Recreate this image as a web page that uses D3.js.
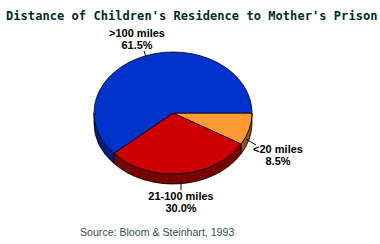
<!DOCTYPE html>
<html>
<head>
<meta charset="utf-8">
<script src="https://cdn.jsdelivr.net/npm/d3@7"></script>
<style>
  body { margin: 0; background: #fff; }
  svg { display: block; }
</style>
</head>
<body>
<script>
var categories = ["<20 miles", "21-100 miles", ">100 miles"];
var values = [8.5, 30.0, 61.5];
var pct_labels = ["8.5%", "30.0%", "61.5%"];

var top_color = ["#ff9933", "#cc0000", "#0033cc"];
var side_color = ["#8f5414", "#7a0000", "#001f86"];

var W = 380, H = 244;
var cx = 173, cy = 113, rx = 79, ry = 61, depth = 10;

// where each label sits relative to the slice (layout only)
var label_pos = [
    {x: 278, y: 153, lx0: 246, ly0: 139, lx1: 256, ly1: 145},
    {x: 181, y: 200, lx0: 181, ly0: 183, lx1: 181, ly1: 190},
    {x: 137, y: 37,  lx0: 146, ly0: 57,  lx1: 144, ly1: 51}
];

var svg = d3.select('body').append('svg')
    .attr('width', W)
    .attr('height', H);

svg.append('text')
    .attr('x', 6)
    .attr('y', 20)
    .attr('font-family', 'DejaVu Sans Mono')
    .attr('font-weight', 'bold')
    .attr('font-size', '12px')
    .attr('letter-spacing', '0.06px')
    .attr('fill', '#002b2b')
    .text("Distance of Children's Residence to Mother's Prison");

// start at 3 o'clock, go clockwise
var pie = d3.pie().sort(null).startAngle(Math.PI / 2).endAngle(Math.PI / 2 + 2 * Math.PI);
var arcs = pie(values);

function pt(a, dy){
    return [cx + rx * Math.sin(a), cy - ry * Math.cos(a) + (dy || 0)];
}

// side walls (front half only: PI/2 .. 3PI/2)
var sides = svg.append('g').attr('class', 'sides');
arcs.forEach(function(d, i){
    var a0 = Math.max(d.startAngle, Math.PI / 2);
    var a1 = Math.min(d.endAngle, 3 * Math.PI / 2);
    if (a1 <= a0) return;
    var p0 = pt(a0), p1 = pt(a1), q0 = pt(a0, depth), q1 = pt(a1, depth);
    var path = "M" + p0 + " A" + rx + " " + ry + " 0 0 1 " + p1 +
        " L" + q1 + " A" + rx + " " + ry + " 0 0 0 " + q0 + " Z";
    sides.append('path')
        .attr('d', path)
        .attr('fill', side_color[i])
        .attr('stroke', '#000')
        .attr('stroke-width', 0.8)
        .attr('stroke-linejoin', 'round');
});

// top faces
var tops = svg.append('g').attr('class', 'tops');
arcs.forEach(function(d, i){
    var p0 = pt(d.startAngle), p1 = pt(d.endAngle);
    var large = (d.endAngle - d.startAngle) > Math.PI ? 1 : 0;
    var path = "M" + cx + "," + cy + " L" + p0 + " A" + rx + " " + ry + " 0 " + large + " 1 " + p1 + " Z";
    tops.append('path')
        .attr('d', path)
        .attr('fill', top_color[i])
        .attr('stroke', '#000')
        .attr('stroke-width', 0.8)
        .attr('stroke-linejoin', 'round');
});

// labels and leader lines
var labels = svg.append('g').attr('class', 'labels');
categories.forEach(function(c, i){
    var p = label_pos[i];
    labels.append('line')
        .attr('x1', p.lx0).attr('y1', p.ly0)
        .attr('x2', p.lx1).attr('y2', p.ly1)
        .attr('stroke', '#000')
        .attr('stroke-width', 1);
    var t = labels.append('text')
        .attr('x', p.x)
        .attr('y', p.y)
        .attr('text-anchor', 'middle')
        .attr('font-family', 'Liberation Sans, Arial, sans-serif')
        .attr('font-weight', 'bold')
        .attr('font-size', '11px')
        .attr('fill', '#000');
    t.append('tspan').attr('x', p.x).text(c);
    t.append('tspan').attr('x', p.x).attr('dy', 12).text(pct_labels[i]);
});

svg.append('text')
    .attr('x', 80)
    .attr('y', 236)
    .attr('font-family', 'Liberation Sans, Arial, sans-serif')
    .attr('font-size', '10.6px')
    .attr('fill', '#2f4f4f')
    .text("Source: Bloom & Steinhart, 1993");
</script>
</body>
</html>
